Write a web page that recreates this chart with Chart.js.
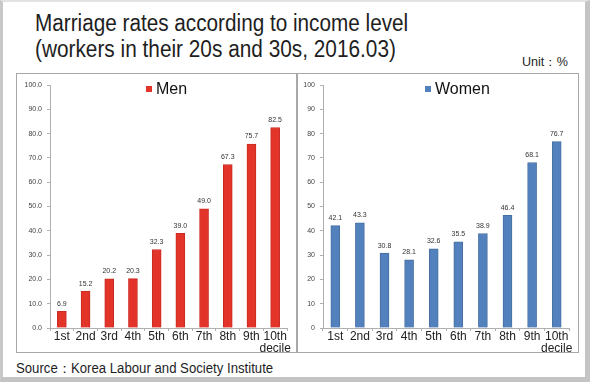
<!DOCTYPE html>
<html>
<head>
<meta charset="utf-8">
<script src="https://cdn.jsdelivr.net/npm/chart.js@4/dist/chart.umd.min.js"></script>
<style>
  html, body { margin: 0; padding: 0; background: #fff; }
  #frame {
    position: relative; width: 590px; height: 382px; overflow: hidden;
    background: #fff; box-sizing: border-box;
    border-left: 3px solid #c8c8c8; border-top: 2px solid #e2e2e2;
    border-right: 5px solid #c4c4c4; border-bottom: 5px solid #c4c4c4;
    font-family: "Liberation Sans", Arial, sans-serif; color: #1e1e1e;
  }
  .txt { position: absolute; white-space: nowrap; transform-origin: 0 0; }
  #title1 { left: 32px; top: 8px; font-size: 23px; }
  #title2 { left: 32px; top: 34px; font-size: 23px; }
  #unit { left: 519px; top: 52px; font-size: 12px; }
  #source { left: 13px; top: 358px; font-size: 14px; }
  .panel { position: absolute; top: 71px; width: 281px; height: 280px; border: 1px solid #a8a8a8; box-sizing: border-box; }
  #pMen { left: 13px; }
  #pWomen { left: 294px; width: 282px; }
  .panel canvas { position: absolute; left: -1px; top: -1px; }
</style>
</head>
<body>
<div id="frame">
  <div class="txt" id="title1">Marriage rates according to income level</div>
  <div class="txt" id="title2">(workers in their 20s and 30s, 2016.03)</div>
  <div class="txt" id="unit">Unit：%</div>
  <div class="panel" id="pMen"><canvas id="menChart" width="281" height="280"></canvas></div>
  <div class="panel" id="pWomen"><canvas id="womenChart" width="282" height="280"></canvas></div>
  <div class="txt" id="source">Source：Korea Labour and Society Institute</div>
</div>
<script>
const deciles = ['1st', '2nd', '3rd', '4th', '5th', '6th', '7th', '8th', '9th', ['10th', 'decile']];
const men_rates = [6.9, 15.2, 20.2, 20.3, 32.3, 39.0, 49.0, 67.3, 75.7, 82.5];
const women_rates = [42.1, 43.3, 30.8, 28.1, 32.6, 35.5, 38.9, 46.4, 68.1, 76.7];
const y_max = 100;
const y_step = 10;

// squeeze the narrow-looking texts to the widths seen in the picture
function fitWidth(id, w){
    let el = document.getElementById(id);
    el.style.transform = 'scaleX(' + (w / el.offsetWidth) + ')';
}
fitWidth('title1', 373);
fitWidth('title2', 361);
fitWidth('unit', 46);
fitWidth('source', 257);

const valueLabels = {
    id: 'valueLabels',
    afterDatasetsDraw(chart) {
        const {ctx} = chart;
        const meta = chart.getDatasetMeta(0);
        const data = chart.data.datasets[0].data;
        ctx.save();
        ctx.font = '7px "Liberation Sans", Arial, sans-serif';
        ctx.fillStyle = '#333';
        ctx.textAlign = 'center';
        ctx.textBaseline = 'bottom';
        meta.data.forEach((bar, i) => {
            ctx.fillText(data[i].toFixed(1), bar.x, bar.y - 4);
        });
        ctx.restore();
    }
};

const boxLegend = {
    id: 'boxLegend',
    afterDraw(chart, args, options) {
        const {ctx} = chart;
        const ds = chart.data.datasets[0];
        ctx.save();
        ctx.fillStyle = ds.backgroundColor;
        ctx.fillRect(options.x, options.y - 3, 6, 6);
        ctx.fillStyle = '#111';
        ctx.font = '16px "Liberation Sans", Arial, sans-serif';
        ctx.textBaseline = 'middle';
        ctx.textAlign = 'left';
        ctx.fillText(ds.label, options.x + 10, options.y + 1);
        ctx.restore();
    }
};

function makeChart(canvas_id, label, values, color, border, axis_width, tick_fmt, legend_x) {
    return new Chart(document.getElementById(canvas_id), {
        type: 'bar',
        data: {
            labels: deciles,
            datasets: [{
                label: label,
                data: values,
                backgroundColor: color,
                borderColor: border,
                borderWidth: 1,
                barThickness: 9
            }]
        },
        options: {
            responsive: false,
            animation: false,
            layout: { padding: { top: 12, right: 10, left: 0, bottom: 0 } },
            plugins: {
                legend: { display: false },
                tooltip: { enabled: false },
                boxLegend: { x: legend_x, y: 16 }
            },
            scales: {
                x: {
                    afterFit: (s) => { s.height = 25; },
                    border: { color: '#b0b0b0' },
                    grid: { drawOnChartArea: false, tickLength: 3, color: '#b0b0b0' },
                    ticks: {
                        color: '#222', padding: 0, maxRotation: 0, autoSkip: false,
                        font: { size: 12, family: '"Liberation Sans", Arial, sans-serif', lineHeight: 1.0 }
                    }
                },
                y: {
                    min: 0, max: y_max,
                    afterFit: (s) => { s.width = axis_width; },
                    border: { color: '#b0b0b0' },
                    grid: { drawOnChartArea: false, tickLength: 3, color: '#b0b0b0' },
                    ticks: {
                        stepSize: y_step, color: '#444', padding: 5,
                        font: { size: 7, family: '"Liberation Sans", Arial, sans-serif' },
                        callback: tick_fmt
                    }
                }
            }
        },
        plugins: [valueLabels, boxLegend]
    });
}

makeChart('menChart', 'Men', men_rates, '#e3342a', '#c92a22', 34, (v) => v.toFixed(1), 130);
makeChart('womenChart', 'Women', women_rates, '#5381be', '#46709f', 26, (v) => v, 128);
</script>
</body>
</html>
